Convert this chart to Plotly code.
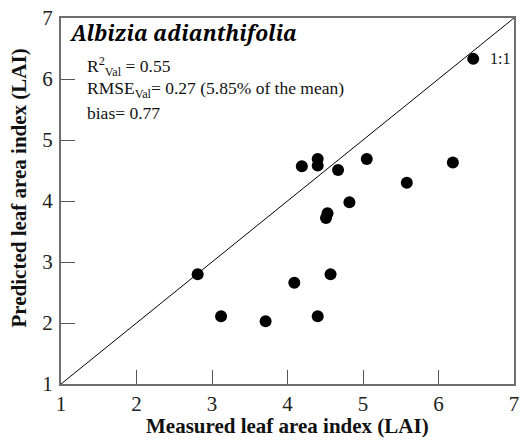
import plotly.graph_objects as go

# Measured vs predicted leaf area index (LAI) for the validation samples
measured = [2.81, 3.12, 3.71, 4.09, 4.19, 4.40, 4.40, 4.40, 4.57, 4.53, 4.51,
            4.67, 4.82, 5.05, 5.58, 6.19, 6.46]
predicted = [2.80, 2.11, 2.03, 2.66, 4.57, 4.69, 4.58, 2.11, 2.80, 3.80, 3.72,
             4.51, 3.98, 4.69, 4.30, 4.63, 6.33]

axis_min, axis_max = 1, 7
tick_vals = [1, 2, 3, 4, 5, 6, 7]

species = "Albizia adianthifolia"
stats_lines = [
    "R<sup>2</sup><sub>Val</sub> = 0.55",
    "RMSE<sub>Val</sub>= 0.27 (5.85% of the mean)",
    "bias= 0.77",
]

SERIF = "Liberation Serif"
TITLE_SERIF = "Noto Serif"

fig = go.Figure()

# 1:1 reference line
fig.add_trace(go.Scatter(
    x=[axis_min, axis_max], y=[axis_min, axis_max],
    mode="lines", line=dict(color="black", width=1),
    hoverinfo="skip", showlegend=False,
))

# Observations
fig.add_trace(go.Scatter(
    x=measured, y=predicted, mode="markers",
    marker=dict(color="black", size=12, line=dict(width=0)),
    showlegend=False,
))

axis_common = dict(
    range=[axis_min, axis_max],
    tickvals=tick_vals,
    ticks="inside", ticklen=14, tickwidth=1, tickcolor="#555555",
    showline=True, linecolor="#6e6e6e", linewidth=2, mirror=True,
    showgrid=False, zeroline=False,
    tickfont=dict(family=SERIF, size=21, color="#222222"),
)

fig.update_xaxes(**axis_common, ticklabelstandoff=0)
fig.update_yaxes(**axis_common, ticklabelstandoff=2)

stat_font = dict(family=SERIF, size=17.5, color="#111111")
annotations = [
    dict(text="<b><i>" + species + "</i></b>", x=0.014, y=0.958,
         xanchor="left", yanchor="middle",
         font=dict(family=TITLE_SERIF, size=21, color="black")),
    dict(text=stats_lines[0], x=0.054, y=0.868, xanchor="left", yanchor="middle",
         font=stat_font),
    dict(text=stats_lines[1], x=0.054, y=0.805, xanchor="left", yanchor="middle",
         font=stat_font),
    dict(text=stats_lines[2], x=0.054, y=0.741, xanchor="left", yanchor="middle",
         font=stat_font),
    dict(text="1:1", x=0.943, y=0.889, xanchor="left", yanchor="middle",
         font=dict(family=SERIF, size=16, color="#111111")),
    dict(text="<b>Measured leaf area index (LAI)</b>", x=0.5, y=-0.116,
         xanchor="center", yanchor="middle",
         font=dict(family=SERIF, size=21, color="#111111")),
    dict(text="<b>Predicted leaf area index (LAI)</b>", x=-0.092, y=0.535,
         xanchor="center", yanchor="middle", textangle=-90,
         font=dict(family=SERIF, size=21, color="#111111")),
]
for a in annotations:
    a.update(xref="paper", yref="paper", showarrow=False)

fig.update_layout(
    width=525, height=444,
    margin=dict(l=61, r=6, t=14, b=60),
    paper_bgcolor="white", plot_bgcolor="white",
    annotations=annotations,
)

fig.write_html("out.html")
